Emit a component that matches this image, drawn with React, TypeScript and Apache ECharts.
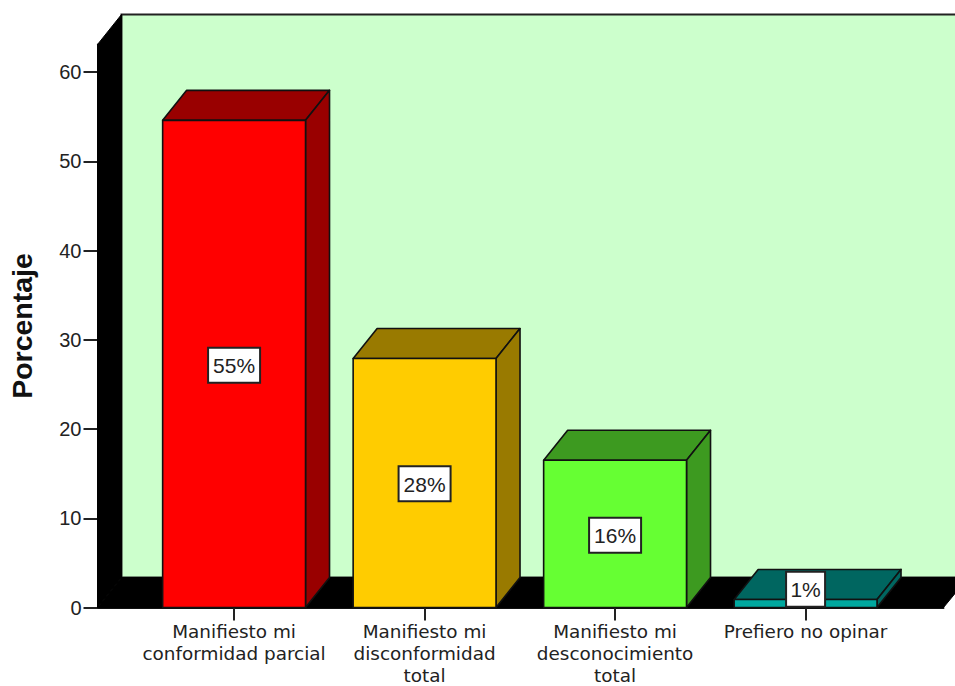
import React, { useEffect, useRef } from "react";
import * as echarts from "echarts";

const categories = [
  "Manifiesto mi\nconformidad parcial",
  "Manifiesto mi\ndisconformidad\ntotal",
  "Manifiesto mi\ndesconocimiento\ntotal",
  "Prefiero no opinar",
];
const values = [54.6, 27.9, 16.5, 0.9];
const labels = ["55%", "28%", "16%", "1%"];
const labelAnchors = [27.1, 13.8, 8.05, 2.0];
const frontColors = ["#ff0000", "#ffcc00", "#66ff33", "#00a89f"];
const shadeColors = ["#990000", "#997a00", "#3d9a20", "#006660"];
const yTicks = [0, 10, 20, 30, 40, 50, 60];

const DX = 24;
const DY = 30;
const EDGE = "#111";
const FONT = "'Liberation Sans', Arial, sans-serif";
const WIDE_FONT = "'DejaVu Sans', 'Liberation Sans', sans-serif";

export default function App() {
  const ref = useRef<HTMLDivElement>(null);
  useEffect(() => {
    document.body.style.margin = "0";
    const chart = echarts.init(ref.current!, null, { renderer: "svg" });
    chart.setOption({
      animation: false,
      backgroundColor: "#fff",
      grid: { left: 97.5, top: 44.5, width: 846, height: 563, containLabel: false, outerBoundsMode: "none" },
      xAxis: {
        type: "value",
        min: -0.717,
        max: 3.724,
        splitLine: { show: false },
        axisLine: { onZero: false, lineStyle: { color: "#111", width: 2 } },
        axisTick: { length: 13, customValues: [0, 1, 2, 3], lineStyle: { color: "#222", width: 2 } },
        axisLabel: {
          customValues: [0, 1, 2, 3],
          formatter: (v: number) => categories[Math.round(v)],
          fontFamily: WIDE_FONT,
          fontSize: 18.4,
          lineHeight: 21.6,
          color: "#222",
          margin: 13.5,
          verticalAlign: "top",
        },
      },
      yAxis: {
        type: "value",
        min: 0,
        max: 63.1,
        name: "Porcentaje",
        nameLocation: "middle",
        nameGap: 61,
        nameTextStyle: { fontFamily: FONT, fontSize: 28.5, fontWeight: "bold", color: "#111" },
        splitLine: { show: false },
        axisLine: { show: true, onZero: false, lineStyle: { color: "#111", width: 2 } },
        axisTick: { show: true, length: 14, customValues: yTicks, lineStyle: { color: "#222", width: 2 } },
        axisLabel: {
          customValues: yTicks,
          fontFamily: FONT,
          fontSize: 20,
          color: "#222",
          margin: 16,
        },
      },
      series: [
        {
          type: "custom",
          coordinateSystem: "cartesian2d",
          clip: false,
          silent: true,
          data: [0],
          encode: { x: 0, y: 0 },
          z: 1,
          renderItem: (_p: any, api: any) => {
            const [x0, y0] = api.coord([-0.717, 0]);
            const [x1, yTop] = api.coord([3.724, 63.1]);
            const W = api.getWidth();
            return {
              type: "group",
              children: [
                {
                  type: "polygon",
                  shape: { points: [[x0 + DX, yTop - DY], [W + 4, yTop - DY], [W + 4, y0 - DY], [x0 + DX, y0 - DY]] },
                  style: { fill: "#ccffcc", stroke: "#222", lineWidth: 2 },
                },
                {
                  type: "polygon",
                  shape: { points: [[x0, yTop], [x0 + DX, yTop - DY], [x0 + DX, y0 - DY], [x0, y0]] },
                  style: { fill: "#000", stroke: "#000" },
                },
                {
                  type: "polygon",
                  shape: { points: [[x0, y0], [x0 + DX, y0 - DY], [W, y0 - DY], [W, y0 - 14], [x1, y0]] },
                  style: { fill: "#000", stroke: "#000" },
                },
              ],
            };
          },
        },
        {
          type: "custom",
          coordinateSystem: "cartesian2d",
          clip: false,
          data: values.map((v, i) => [i, v]),
          encode: { x: 0, y: 1 },
          z: 2,
          renderItem: (params: any, api: any) => {
            const i = params.dataIndex;
            const c = api.value(0);
            const [xc, yv] = api.coord([c, api.value(1)]);
            const [, y0] = api.coord([c, 0]);
            const half = api.size([0.75, 0])[0] / 2;
            const l = xc - half;
            const r = xc + half;
            const edge = { stroke: EDGE, lineWidth: 1.6, lineJoin: "round" };
            const [, ly] = api.coord([c, labelAnchors[i]]);
            const boxW = i === 3 ? 39 : 52;
            return {
              type: "group",
              children: [
                {
                  type: "polygon",
                  shape: { points: [[l, yv], [l + DX, yv - DY], [r + DX, yv - DY], [r, yv]] },
                  style: { fill: shadeColors[i], ...edge },
                },
                {
                  type: "polygon",
                  shape: { points: [[r, yv], [r + DX, yv - DY], [r + DX, y0 - DY], [r, y0]] },
                  style: { fill: shadeColors[i], ...edge },
                },
                {
                  type: "rect",
                  shape: { x: l, y: yv, width: r - l, height: y0 - yv },
                  style: { fill: frontColors[i], ...edge },
                },
                {
                  type: "rect",
                  shape: { x: xc - boxW / 2, y: ly - 18, width: boxW, height: 35 },
                  style: { fill: "#fff", stroke: "#222", lineWidth: 2 },
                },
                {
                  type: "text",
                  x: xc,
                  y: ly,
                  style: {
                    text: labels[i],
                    fontFamily: FONT,
                    fontSize: 21,
                    fill: "#222",
                    align: "center",
                    verticalAlign: "middle",
                  },
                },
              ],
            };
          },
        },
      ],
    });
    return () => chart.dispose();
  }, []);
  return <div ref={ref} style={{ width: 955, height: 686 }} />;
}
